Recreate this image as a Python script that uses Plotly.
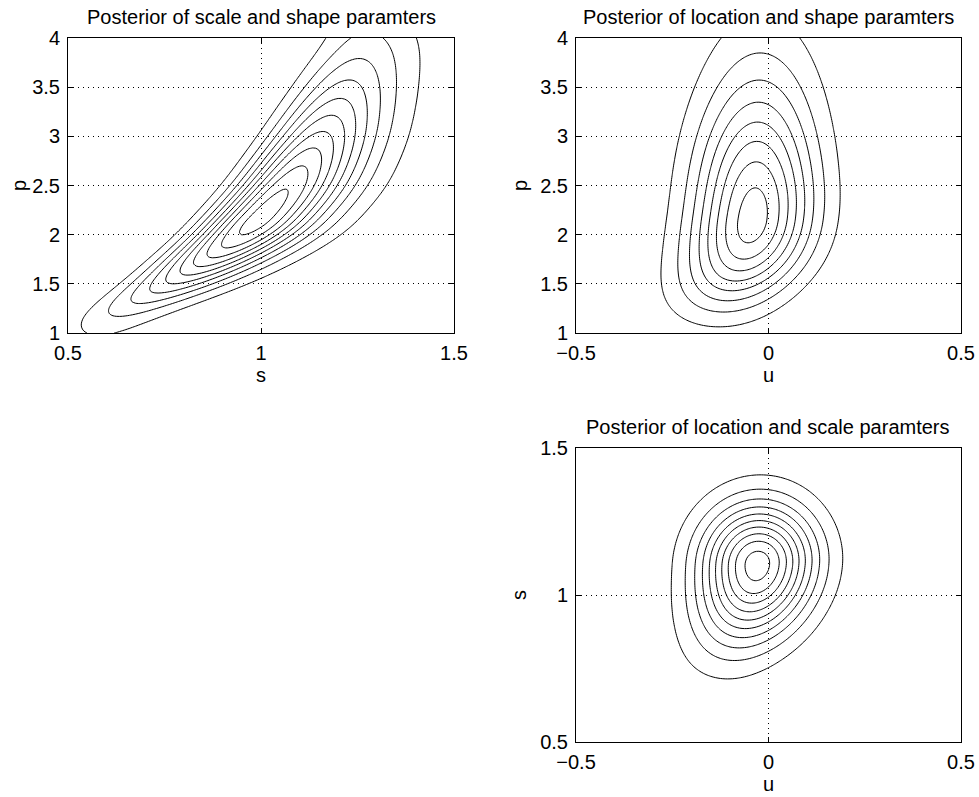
import numpy as np
import plotly.graph_objects as go

# ---------------- data ----------------
TITLES = ["Posterior of scale and shape paramters",
          "Posterior of location and shape paramters",
          "Posterior of location and scale paramters"]
X_LABELS = ["s", "u", "u"]
Y_LABELS = ["p", "p", "s"]

S_TICKS = [0.5, 1, 1.5]
S_TICKTEXT = ["0.5", "1", "1.5"]
U_TICKS = [-0.5, 0, 0.5]
U_TICKTEXT = ["\u22120.5", "0", "0.5"]
P_TICKS = [1, 1.5, 2, 2.5, 3, 3.5, 4]
P_TICKTEXT = ["1", "1.5", "2", "2.5", "3", "3.5", "4"]

# panel 1 : scale s vs shape p
P1_MODE = 2.17            # mode of shape p
P1_SIG_LO = 0.55          # spread of p below the mode
P1_SIG_HI = 0.92          # spread of p above the mode
P1_GROW_HI = 0.07         # growth of upper spread
P1_N = 48.0               # sharpness across the ridge
RIDGE1_P = [1.0, 1.2, 1.5, 1.8, 2.0, 2.5, 3.0, 3.5, 4.0]
RIDGE1_S = [0.56, 0.635, 0.78, 0.89, 0.96, 1.075, 1.155, 1.22, 1.28]
P1_NLEV = 10

# panel 2 : location u vs shape p
P2_MODE = 2.15
P2_SIG_LO = 0.707
P2_GROW_LO = 0.236
P2_SIG_HI = 0.92
P2_GROW_HI = 0.05
P2_U_WIDTH = 0.108
RIDGE2_P = [1.0, 1.3, 1.6, 1.9, 2.3, 3.0, 4.0]
RIDGE2_U = [-0.14, -0.11, -0.075, -0.05, -0.035, -0.03, -0.02]
P2_NLEV = 8

# panel 3 : location u vs scale s
P3_MODE = 1.105
P3_SIG_LO = 0.18
P3_SIG_HI = 0.14
P3_U_WIDTH = 0.102
RIDGE3_S = [0.69, 0.78, 0.9, 1.05, 1.2, 1.42]
RIDGE3_U = [-0.12, -0.085, -0.055, -0.03, -0.025, -0.02]
P3_NLEV = 10

# ---------------- surfaces ----------------
def split_log(d, sig_lo, grow_lo, sig_hi, grow_hi):
    sig = np.where(d < 0, sig_lo * (1 + grow_lo * d), sig_hi * (1 + grow_hi * d))
    return -0.5 * (d / sig) ** 2

def smooth_curve(grid, xs, ys, width):
    """piecewise-linear curve through the read points, smoothed by a gaussian"""
    lin = np.interp(grid, xs, ys)
    step = grid[1] - grid[0]
    half = int(3 * width / step)
    k = np.exp(-0.5 * (np.arange(-half, half + 1) * step / width) ** 2)
    k /= k.sum()
    padded = np.concatenate([np.full(half, lin[0]), lin, np.full(half, lin[-1])])
    return np.convolve(padded, k, mode="valid")

s1 = np.linspace(0.5, 1.5, 121)
p1 = np.linspace(1.0, 4.0, 151)
S1, PP1 = np.meshgrid(s1, p1)
ridge1 = smooth_curve(p1, RIDGE1_P, RIDGE1_S, 0.15)[:, None]
x1 = S1 / ridge1
z1 = split_log(PP1 - P1_MODE, P1_SIG_LO, 0.0, P1_SIG_HI, P1_GROW_HI) \
    + P1_N * (-np.log(x1) + (1 - x1 ** (-PP1)) / PP1)
z1 = np.exp(z1)
z1 = z1 / z1.max()

u2 = np.linspace(-0.5, 0.5, 161)
p2 = np.linspace(1.0, 4.0, 151)
U2, PP2 = np.meshgrid(u2, p2)
uc2 = smooth_curve(p2, RIDGE2_P, RIDGE2_U, 0.2)[:, None]
z2 = split_log(PP2 - P2_MODE, P2_SIG_LO, P2_GROW_LO, P2_SIG_HI, P2_GROW_HI) \
    - 0.5 * ((U2 - uc2) / P2_U_WIDTH) ** 2
z2 = np.exp(z2)
z2 = z2 / z2.max()

u3 = np.linspace(-0.5, 0.5, 161)
s3 = np.linspace(0.5, 1.5, 161)
U3, S3 = np.meshgrid(u3, s3)
uc3 = smooth_curve(s3, RIDGE3_S, RIDGE3_U, 0.06)[:, None]
z3 = split_log(S3 - P3_MODE, P3_SIG_LO, 0.0, P3_SIG_HI, 0.0) \
    - 0.5 * ((U3 - uc3) / P3_U_WIDTH) ** 2
z3 = np.exp(z3)
z3 = z3 / z3.max()

# ---------------- figure ----------------
FONT = "Liberation Sans, Arial, Helvetica, sans-serif"
FS = 20
W, H = 979, 797

def contour(x, y, z, nlev, xa, ya):
    step = 1.0 / (nlev + 0.5)
    return go.Contour(
        x=x, y=y, z=z, xaxis=xa, yaxis=ya,
        contours=dict(coloring="lines", start=step, end=nlev * step + 1e-6, size=step,
                      showlabels=False),
        colorscale=[[0, "black"], [1, "black"]],
        line=dict(width=1, color="black"),
        showscale=False, hoverinfo="skip")

fig = go.Figure()
fig.add_trace(contour(s1, p1, z1, P1_NLEV, "x", "y"))
fig.add_trace(contour(u2, p2, z2, P2_NLEV, "x2", "y2"))
fig.add_trace(contour(u3, s3, z3, P3_NLEV, "x3", "y3"))

# window-pixel boxes of the three axes (left, right, top, bottom)
boxes = [(68, 454, 38, 333), (576, 961, 38, 333), (576, 961, 448, 742)]
ytitle_standoff = [0, 7, 8]

def dom(b):
    l, r, t, bt = b
    return [l / W, r / W], [1 - bt / H, 1 - t / H]

common = dict(showline=True, linecolor="black", linewidth=1, mirror="ticks",
              ticks="inside", ticklen=5, tickcolor="black", tickwidth=1,
              showgrid=True, gridcolor="black", gridwidth=1, griddash="1px,4px",
              zeroline=False, tickfont=dict(family=FONT, size=FS, color="black"),
              fixedrange=True, automargin=False)

xr = [[0.5, 1.5], [-0.5, 0.5], [-0.5, 0.5]]
yr = [[1, 4], [1, 4], [0.5, 1.5]]
xt = [(S_TICKS, S_TICKTEXT), (U_TICKS, U_TICKTEXT), (U_TICKS, U_TICKTEXT)]
yt = [(P_TICKS, P_TICKTEXT), (P_TICKS, P_TICKTEXT), (S_TICKS, S_TICKTEXT)]

layout = dict(width=W, height=H, margin=dict(l=0, r=0, t=0, b=0), autosize=False,
              paper_bgcolor="white", plot_bgcolor="white", showlegend=False,
              font=dict(family=FONT, size=FS, color="black"))
annotations = []
for i in range(3):
    xd, yd = dom(boxes[i])
    sx = "" if i == 0 else str(i + 1)
    layout["xaxis" + sx] = dict(common, domain=xd, range=xr[i], tickvals=xt[i][0],
                                ticktext=xt[i][1], anchor="y" + sx,
                                ticklabelstandoff=2,
                                title=dict(text=X_LABELS[i], standoff=0,
                                           font=dict(family=FONT, size=FS)))
    layout["yaxis" + sx] = dict(common, domain=yd, range=yr[i], tickvals=yt[i][0],
                                ticktext=yt[i][1], anchor="x" + sx,
                                ticklabelstandoff=3,
                                title=dict(text=Y_LABELS[i], standoff=ytitle_standoff[i],
                                           font=dict(family=FONT, size=FS)))
    annotations.append(dict(text=TITLES[i], x=(xd[0] + xd[1]) / 2, y=yd[1],
                            xref="paper", yref="paper", xanchor="center",
                            yanchor="bottom", yshift=8, showarrow=False,
                            font=dict(family=FONT, size=FS, color="black")))
layout["annotations"] = annotations
fig.update_layout(**layout)
fig.write_html("out.html",
               config={"displayModeBar": False, "staticPlot": True},
               post_script="document.body.style.margin='0px';"
                           "document.body.style.overflow='hidden';")
